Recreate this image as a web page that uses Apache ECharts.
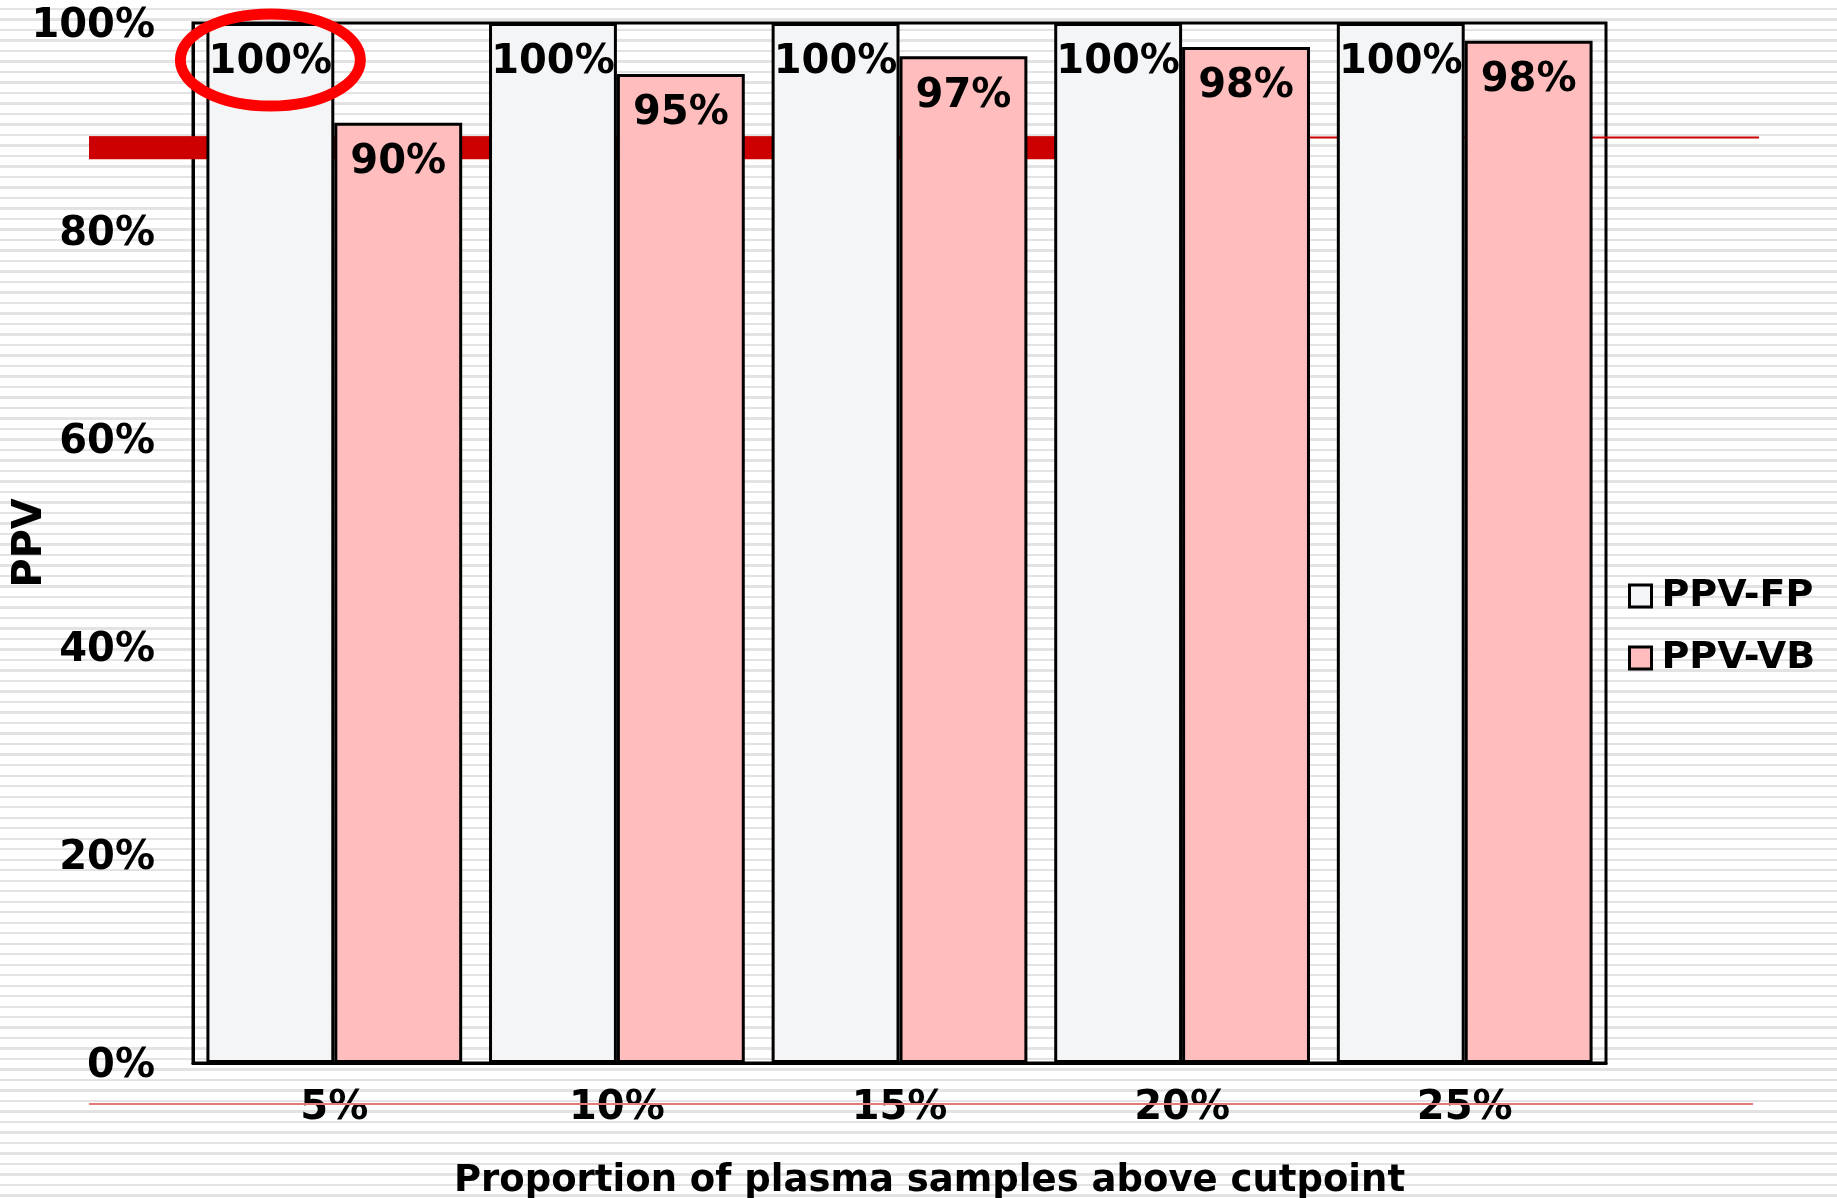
<!DOCTYPE html>
<html>
<head>
<meta charset="utf-8">
<script src="https://cdn.jsdelivr.net/npm/echarts@6/dist/echarts.min.js"></script>
<style>
  html, body { margin: 0; padding: 0; }
  body {
    width: 1837px; height: 1198px; overflow: hidden;
    background: repeating-linear-gradient(to bottom, #ffffff 0px, #ffffff 8px, #e3e3e3 8px, #e3e3e3 10.5px);
  }
  #main { width: 1837px; height: 1198px; }
</style>
</head>
<body>
<div id="main"></div>
<script>
const categories = ["5%", "10%", "15%", "20%", "25%"];
const ppvFP = [100, 100, 100, 100, 100];
const ppvVB = [90.4, 95.1, 96.8, 97.7, 98.3];
const seriesNames = ["PPV-FP", "PPV-VB"];
// red reference marks drawn on the slide (in % of the y axis)
const bandRange = [86.9, 89.1];
const thinLineValue = 89.0;
const bottomLineValue = -3.95;

const font = "DejaVu Sans";
const chartDom = document.getElementById("main");
const myChart = echarts.init(chartDom, null, { renderer: "canvas" });

const labelStyle = {
  show: true,
  position: "insideTop",
  distance: 20,
  color: "#000",
  fontFamily: font,
  fontWeight: "bold",
  fontSize: 40,
  formatter: (p) => Math.round(p.value) + "%",
};

const option = {
  animation: false,
  backgroundColor: "transparent",
  textStyle: { fontFamily: font },
  grid: {
    left: 193,
    top: 23,
    right: 231,
    bottom: 135,
    outerBoundsMode: "none",
    containLabel: false,
    show: true,
    borderColor: "#000",
    borderWidth: 3,
    backgroundColor: "transparent",
  },
  legend: {
    orient: "vertical",
    left: 1623,
    top: 571,
    itemWidth: 22,
    itemHeight: 22,
    itemGap: 22,
    icon: "rect",
    itemStyle: { borderColor: "#000", borderWidth: 3 },
    textStyle: {
      fontFamily: font,
      fontWeight: "bold",
      fontSize: 38,
      lineHeight: 40,
      color: "#000",
      padding: [0, 0, 0, 5],
    },
    data: seriesNames,
  },
  xAxis: {
    type: "category",
    data: categories,
    axisTick: { show: false },
    axisLine: { show: true, lineStyle: { color: "#000", width: 3 } },
    axisLabel: {
      margin: 26,
      color: "#000",
      fontFamily: font,
      fontWeight: "bold",
      fontSize: 40,
    },
    name: "Proportion of plasma samples above cutpoint",
    nameLocation: "middle",
    nameMoveOverlap: false,
    nameGap: 100,
    nameTextStyle: {
      color: "#000",
      fontFamily: font,
      fontWeight: "bold",
      fontSize: 37,
      padding: [0, 0, 0, 60],
    },
  },
  yAxis: {
    type: "value",
    min: 0,
    max: 100,
    interval: 20,
    splitLine: { show: false },
    axisTick: { show: false },
    axisLine: { show: true, lineStyle: { color: "#000", width: 3 } },
    axisLabel: {
      margin: 38,
      color: "#000",
      fontFamily: font,
      fontWeight: "bold",
      fontSize: 40,
      verticalAlign: "top",
      lineHeight: 7,
      formatter: "{value}%",
    },
    name: "PPV",
    nameLocation: "middle",
    nameMoveOverlap: false,
    nameGap: 142,
    nameTextStyle: {
      color: "#000",
      fontFamily: font,
      fontWeight: "bold",
      fontSize: 40,
    },
  },
  series: [
    {
      name: seriesNames[0],
      type: "bar",
      data: ppvFP,
      barGap: "0%",
      barCategoryGap: "9.5%",
      z: 3,
      itemStyle: { color: "#f4f5f7", borderColor: "#000", borderWidth: 3 },
      label: labelStyle,
    },
    {
      name: seriesNames[1],
      type: "bar",
      data: ppvVB,
      z: 3,
      itemStyle: { color: "#ffbdbd", borderColor: "#000", borderWidth: 3 },
      label: labelStyle,
    },
  ],
};

myChart.setOption(option);

// annotations placed from the chart's own scale
const yPix = (v) => myChart.convertToPixel({ yAxisIndex: 0 }, v);
const bandTop = yPix(bandRange[1]);
const bandBottom = yPix(bandRange[0]);
const thinY = yPix(thinLineValue);
const bottomY = yPix(bottomLineValue);
const firstBar = myChart.getModel().getSeriesByIndex(0).getData().getItemLayout(0);
const labelCy = firstBar.y + firstBar.height + 37;

myChart.setOption({
  graphic: [
    {
      type: "rect",
      z: 1,
      silent: true,
      shape: { x: 89, y: bandTop, width: 1150 - 89, height: bandBottom - bandTop },
      style: { fill: "#cc0000" },
    },
    {
      type: "line",
      z: 1,
      silent: true,
      shape: { x1: 89, y1: thinY, x2: 1759, y2: thinY },
      style: { stroke: "#cc0000", lineWidth: 2 },
    },
    {
      type: "line",
      z: 1,
      silent: true,
      shape: { x1: 89, y1: bottomY, x2: 1753, y2: bottomY },
      style: { stroke: "#e27a7a", lineWidth: 2 },
    },
    {
      type: "ellipse",
      z: 20,
      silent: true,
      shape: { cx: firstBar.x + firstBar.width / 2, cy: labelCy, rx: 90, ry: 46 },
      style: { fill: "none", stroke: "#ff0000", lineWidth: 11 },
    },
  ],
});
</script>
</body>
</html>
